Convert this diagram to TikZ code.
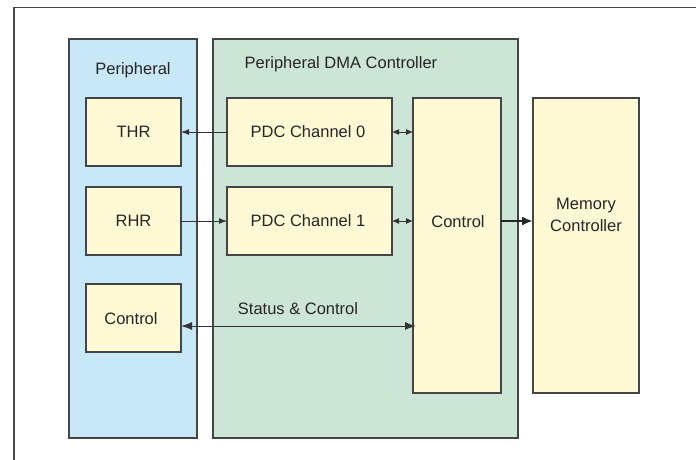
\documentclass[tikz,border=0pt]{standalone}
\usepackage{fontspec}
\setmainfont{Liberation Sans}
\usetikzlibrary{arrows.meta}
\definecolor{edge}{HTML}{454545}
\definecolor{periph}{HTML}{C8E8F8}
\definecolor{pdcgreen}{HTML}{CCE5D6}
\definecolor{blockfill}{HTML}{FFF9D6}
\begin{document}
\begin{tikzpicture}[x=1pt,y=-1pt,
  panel/.style={draw=edge,line width=1.4pt},
  block/.style={draw=edge,line width=1.3pt,fill=blockfill},
  lbl/.style={font=\fontsize{16.5}{22}\selectfont,text=black!85},
  link/.style={draw=black!80,line width=1pt},
  tip/.style={-{Latex[length=8pt,width=6pt]}},
  dtip/.style={{Latex[length=7pt,width=6pt]}-{Latex[length=7pt,width=6pt]}}]
\useasboundingbox (0,0) rectangle (696,460);
% outer frame (top and left edges only)
\draw[draw=edge,line width=1.6pt] (14,460) -- (14,7.5) -- (696,7.5);
% panels
\path[panel,fill=periph] (69,39) rectangle (197,438);
\path[panel,fill=pdcgreen] (213,39) rectangle (518,438);
\node[lbl] (ptitle) at (133,70) {Peripheral};
\node[lbl] (dtitle) at (341,64) {Peripheral DMA Controller};
% blocks
\path[block] (86,98) rectangle (181,166);
\node[lbl] (thr) at (133.5,132) {THR};
\coordinate (thrE) at (181,132);
\path[block] (86,187) rectangle (181,255);
\node[lbl] (rhr) at (133.5,221) {RHR};
\coordinate (rhrE) at (181,221);
\path[block] (86,284) rectangle (181,352);
\node[lbl] (pctl) at (131,319) {Control};
\coordinate (pctlE) at (181,326);
\path[block] (227,98) rectangle (392,166);
\node[lbl] (ch0) at (308,132) {PDC Channel 0};
\coordinate (ch0W) at (227,132);
\coordinate (ch0E) at (392,132);
\path[block] (227,187) rectangle (392,255);
\node[lbl] (ch1) at (308,221) {PDC Channel 1};
\coordinate (ch1W) at (227,221);
\coordinate (ch1E) at (392,221);
\path[block] (413,98) rectangle (501,393);
\node[lbl] (dctl) at (458,222) {Control};
\coordinate (dctlW0) at (413,132);
\coordinate (dctlW1) at (413,221);
\coordinate (dctlW2) at (416,326);
\coordinate (dctlE) at (501,221);
\path[block] (533,98) rectangle (639,393);
\node[lbl,align=center] (mem) at (586,215) {Memory\\Controller};
\coordinate (memW) at (533,221);
% connectors
\draw[link,tip] (ch0W) -- (thrE);
\draw[link,tip] (rhrE) -- (ch1W);
\draw[link,dtip] (ch0E) -- (dctlW0);
\draw[link,dtip] (ch1E) -- (dctlW1);
\draw[link,{Latex[length=11pt,width=8pt]}-{Latex[length=11pt,width=8pt]}] (pctlE) -- (dctlW2);
\node[lbl] (stat) at (298,309) {Status \& Control};
\draw[draw=black!85,line width=2.2pt,-{Latex[length=11pt,width=9pt]}] (dctlE) -- (memW);
\end{tikzpicture}
\end{document}
